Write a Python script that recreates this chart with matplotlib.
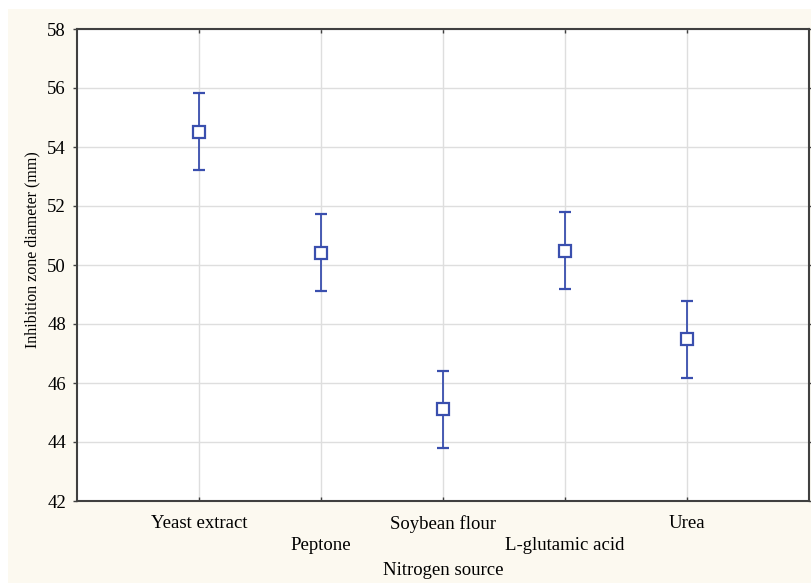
import matplotlib.pyplot as plt
from matplotlib.patches import Rectangle

sources = ['Yeast extract', 'Peptone', 'Soybean flour', 'L-glutamic acid', 'Urea']
means = [54.52, 50.42, 45.12, 50.49, 47.48]
lower = [53.22, 49.12, 43.81, 49.19, 46.17]
upper = [55.82, 51.72, 46.42, 51.79, 48.79]
y_ticks = [42, 44, 46, 48, 50, 52, 54, 56, 58]


def main():
    plt.rcParams['font.family'] = ['Liberation Serif', 'DejaVu Serif']

    fig = plt.figure(figsize=(8.12, 5.83), dpi=100, facecolor='white')
    # cream panel behind the plot
    fig.patches.append(Rectangle((8 / 812, 0), 1, 1 - 9 / 583, transform=fig.transFigure,
                                 facecolor='#fcf9f0', edgecolor='none', zorder=-1))
    ax = fig.add_axes([77 / 812, 82 / 583, 732 / 812, 472 / 583])
    ax.set_facecolor('white')

    x = list(range(1, len(sources) + 1))
    err_lo = [m - l for m, l in zip(means, lower)]
    err_hi = [u - m for m, u in zip(means, upper)]
    blue = '#3a4fae'
    ax.errorbar(x, means, yerr=[err_lo, err_hi], fmt='s', color=blue, ecolor=blue,
                markerfacecolor='white', markeredgecolor=blue, markersize=8, markeredgewidth=1.6,
                elinewidth=1.3, capsize=4.5, capthick=1.3, zorder=3)

    ax.set_xlim(0, 6)
    ax.set_ylim(42, 58)
    ax.set_yticks(y_ticks)
    ax.set_xticks(x)
    # staggered category labels, every other one pushed down a line
    ax.set_xticklabels([s if i % 2 == 0 else '\n' + s for i, s in enumerate(sources)])
    for lbl in ax.get_xticklabels():
        lbl.set_linespacing(1.4)

    ax.grid(True, color='#dedede', linewidth=1)
    ax.set_axisbelow(True)
    for sp in ax.spines.values():
        sp.set_color('#404040')
        sp.set_linewidth(1.5)

    ax.tick_params(axis='y', direction='out', length=3, width=1, color='#404040',
                   labelsize=13.5, pad=5)
    ax.tick_params(axis='x', direction='in', length=3, width=1, color='#404040',
                   labelsize=13.5, pad=10, top=True)
    ax.tick_params(axis='y', which='both', right=True)

    ax.set_xlabel('Nitrogen source', fontsize=13.5, labelpad=6)
    ax.set_ylabel('Inhibition zone diameter (mm)', fontsize=11.5)
    ax.yaxis.set_label_coords(-0.0505, 0.532)

    fig.savefig('out.png', dpi=100, facecolor=fig.get_facecolor())


if __name__ == "__main__":
    main()
